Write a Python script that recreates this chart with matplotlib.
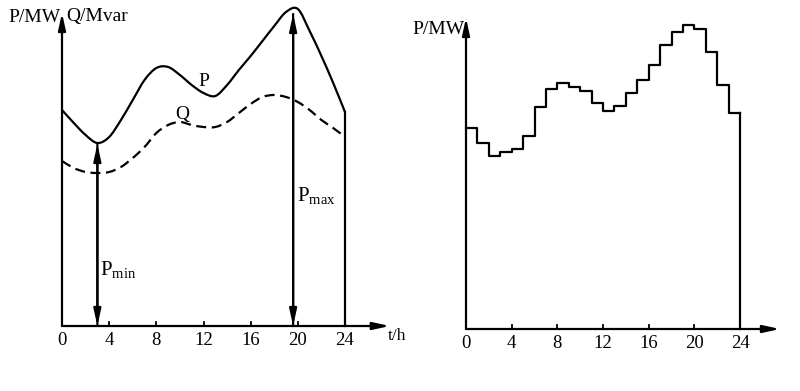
import matplotlib
matplotlib.use("Agg")
import matplotlib.pyplot as plt
from matplotlib.path import Path
from matplotlib.patches import PathPatch
import numpy as np

plt.rcParams['font.family'] = ['Liberation Serif', 'DejaVu Serif']
plt.rcParams['mathtext.fontset'] = 'custom'
plt.rcParams['mathtext.rm'] = 'Liberation Serif'
plt.rcParams['mathtext.it'] = 'Liberation Serif'

# ---- data ----
hours = list(range(25))
p_curve = [216, 203, 191, 183, 189, 206, 226, 246, 258, 259, 251, 241, 233,
           230, 241, 256, 270, 285, 300, 314, 317, 295, 270, 243, 214]
q_curve = [165, 158, 154, 153, 154, 159, 168, 179, 193, 201, 204, 201, 199,
           199, 204, 213, 222, 229, 231, 229, 224, 216, 206, 198, 189]
p_steps = [201, 186, 173, 177, 180, 193, 222, 240, 246, 242, 238, 226,
           218, 223, 236, 249, 264, 284, 297, 304, 300, 277, 244, 216]
tick_hours = [0, 4, 8, 12, 16, 20, 24]
t_min, p_min = 3.0, 183
t_max, p_max = 19.6, 319

W, H = 800, 391
fig = plt.figure(figsize=(8, 3.91), dpi=100)

def make_ax(x0, x24, ybase, ytop):
    ax = fig.add_axes([x0 / W, (H - ybase) / H, (x24 - x0) / W, (ybase - ytop) / H])
    ax.set_xlim(0, 24)
    ax.set_ylim(0, ybase - ytop)
    ax.axis('off')
    return ax

lw = 1.6
ahead = dict(arrowstyle='-|>,head_length=1.0,head_width=0.22', color='black', lw=lw,
             shrinkA=0, shrinkB=0)

def smooth_path(xs, ys):
    """Catmull-Rom style Bezier path through the read points (drawing style only)."""
    xs = np.asarray(xs, float); ys = np.asarray(ys, float)
    verts = [(xs[0], ys[0])]
    codes = [Path.MOVETO]
    n = len(xs)
    for i in range(n - 1):
        x0, y0 = (xs[i - 1], ys[i - 1]) if i > 0 else (xs[i], ys[i])
        x1, y1 = xs[i], ys[i]
        x2, y2 = xs[i + 1], ys[i + 1]
        x3, y3 = (xs[i + 2], ys[i + 2]) if i + 2 < n else (xs[i + 1], ys[i + 1])
        c1 = (x1 + (x2 - x0) / 6, y1 + (y2 - y0) / 6)
        c2 = (x2 - (x3 - x1) / 6, y2 - (y3 - y1) / 6)
        verts += [c1, c2, (x2, y2)]
        codes += [Path.CURVE4] * 3
    return Path(verts, codes)

def axes_arrows(ax, xend, ytip, tick_len=4):
    ax.annotate('', xy=(xend, 0), xytext=(0, 0), arrowprops=ahead, annotation_clip=False)
    ax.annotate('', xy=(0, ytip), xytext=(0, 0), arrowprops=ahead, annotation_clip=False)
    for t in tick_hours:
        if 0 < t < 24:
            ax.plot([t, t], [0, tick_len], color='black', lw=1.3, clip_on=False)
        ax.text(t, -6, str(t), ha='center', va='top', fontsize=13.5)

# ---- left panel ----
axL = make_ax(62, 345, 326, 5)
axes_arrows(axL, 27.8, 313)
axL.add_patch(PathPatch(smooth_path(hours, p_curve), fill=False, color='black', lw=lw,
                        clip_on=False, capstyle='round', joinstyle='round'))
axL.add_patch(PathPatch(smooth_path(hours, q_curve), fill=False, color='black', lw=lw,
                        clip_on=False, linestyle=(0, (4.5, 2.5))))
axL.plot([24, 24], [0, p_curve[-1]], color='black', lw=lw, clip_on=False)
# Pmin / Pmax arrows
axL.annotate('', xy=(t_min, p_min - 1), xytext=(t_min, 0), arrowprops=ahead, annotation_clip=False)
axL.annotate('', xy=(t_min, 0), xytext=(t_min, p_min - 1), arrowprops=ahead, annotation_clip=False)
axL.annotate('', xy=(t_max, 312), xytext=(t_max, 0), arrowprops=ahead, annotation_clip=False)
axL.annotate('', xy=(t_max, 0), xytext=(t_max, 312), arrowprops=ahead, annotation_clip=False)
axL.text(t_min + 0.2, 57, r'$\mathrm{P_{min}}$', fontsize=15, ha='left', va='center')
axL.text(t_max + 0.3, 131, r'$\mathrm{P_{max}}$', fontsize=15, ha='left', va='center')
axL.text(12.0, 245, 'P', fontsize=14, ha='center', va='center')
axL.text(10.2, 212, 'Q', fontsize=14, ha='center', va='center')
axL.text(-0.1, 309, 'P/MW', fontsize=14, ha='right', va='center')
axL.text(0.4, 309, 'Q/Mvar', fontsize=14, ha='left', va='center')
axL.text(27.6, -2, 't/h', fontsize=12.5, ha='left', va='top')

# ---- right panel ----
axR = make_ax(466, 740, 329, 5)
axes_arrows(axR, 27.5, 311)
axR.step(hours, p_steps + [p_steps[-1]], where='post', color='black', lw=lw, clip_on=False)
axR.plot([24, 24], [0, p_steps[-1]], color='black', lw=lw, clip_on=False)
axR.text(-0.1, 299, 'P/MW', fontsize=14, ha='right', va='center')

fig.savefig('out.png', dpi=100)
